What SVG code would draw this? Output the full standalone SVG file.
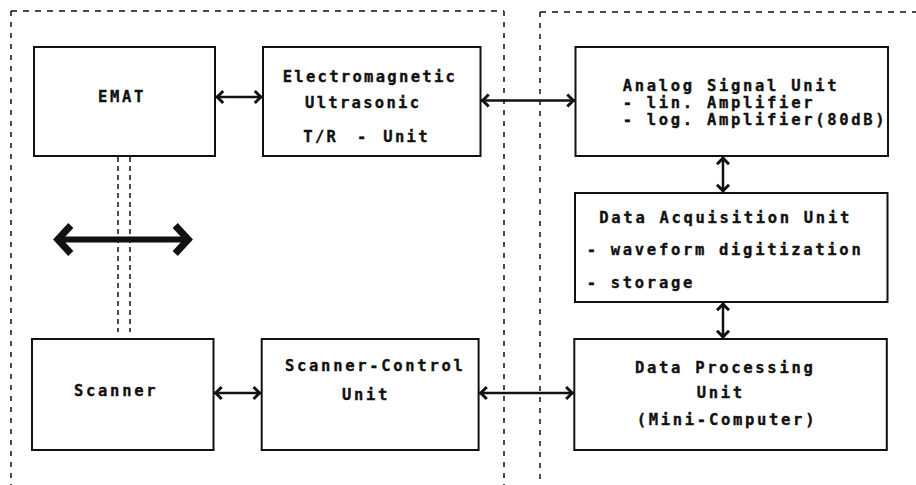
<svg xmlns="http://www.w3.org/2000/svg" width="916" height="485" viewBox="0 0 916 485">
<style>
  .box { fill: #fff; stroke: #111; stroke-width: 2; }
  .t { font-family: "DejaVu Sans Mono", "Liberation Mono", monospace; font-weight: bold; font-size: 15.5px; letter-spacing: 2.7px; fill: #111; stroke: #111; stroke-width: 0.35; }
  .region { fill: none; stroke: #111; stroke-width: 1.5; }
  .rh { stroke-dasharray: 6 6; }
  .rv { stroke-dasharray: 5 6; }
  .link { stroke: #111; stroke-width: 2.5; fill: none; marker-start: url(#ah); marker-end: url(#ah); }
  .big { stroke: #111; stroke-width: 6; fill: none; marker-start: url(#bh); marker-end: url(#bh); }
  .mech { stroke: #111; stroke-width: 1.5; stroke-dasharray: 5 4; fill: none; }
</style>
<defs>
  <marker id="ah" viewBox="0 0 13 16" refX="11.2" refY="8" markerWidth="13" markerHeight="16" markerUnits="userSpaceOnUse" orient="auto-start-reverse">
    <path d="M3,2 L9,8 L3,14" fill="none" stroke="#111" stroke-width="3"/>
  </marker>
  <marker id="bh" viewBox="0 0 26 34" refX="20.8" refY="17" markerWidth="26" markerHeight="34" markerUnits="userSpaceOnUse" orient="auto-start-reverse">
    <path d="M6,3 L19,17 L6,31" fill="none" stroke="#111" stroke-width="7"/>
  </marker>
</defs>
<rect width="916" height="485" fill="#fff"/>

<g id="regions">
  <path class="region rh" d="M11,11 H504"/>
  <path class="region rv" d="M11,11 V485"/>
  <path class="region rv" d="M504,11 V485"/>
  <path class="region rh" d="M540,12 H916"/>
  <path class="region rv" d="M540,12 V485"/>
</g>

<g id="connectors">
  <path class="mech" d="M118,157 V332"/>
  <path class="mech" d="M130,157 V332"/>
  <path class="big" d="M56,239.5 H190"/>
  <path class="link" d="M215,97 H263"/>
  <path class="link" d="M480.5,100.5 H575.5"/>
  <path class="link" d="M723,156 V193"/>
  <path class="link" d="M723,302 V339"/>
  <path class="link" d="M213.5,393 H261.7"/>
  <path class="link" d="M478.6,393 H574.3"/>
</g>

<g id="emat">
  <rect class="box" x="34" y="47" width="181" height="109"/>
  <text class="t" x="98" y="102">EMAT</text>
</g>
<g id="em-unit">
  <rect class="box" x="263" y="47" width="217.5" height="109"/>
  <text class="t" x="282.7" y="82.3" style="letter-spacing:2.3px">Electromagnetic</text>
  <text class="t" x="305" y="108.3" style="letter-spacing:2.3px">Ultrasonic</text>
  <text class="t" y="141.7" style="letter-spacing:2.3px"><tspan x="303.3">T/R</tspan><tspan x="357">-</tspan><tspan x="383.3">Unit</tspan></text>
</g>
<g id="analog">
  <rect class="box" x="575.5" y="47" width="312.5" height="109"/>
  <text class="t" x="622.7" y="90.5">Analog Signal Unit</text>
  <text class="t" x="622.7" y="107.7">- lin. Amplifier</text>
  <text class="t" x="622.7" y="125">- log. Amplifier(80dB)</text>
</g>
<g id="daq">
  <rect class="box" x="575" y="193" width="312.5" height="109"/>
  <text class="t" x="599.3" y="222.7">Data Acquisition Unit</text>
  <text class="t" x="586.7" y="255">- waveform digitization</text>
  <text class="t" x="586.7" y="288.3">- storage</text>
</g>
<g id="scanner">
  <rect class="box" x="32" y="339" width="181.5" height="111"/>
  <text class="t" x="74" y="396">Scanner</text>
</g>
<g id="scanner-control">
  <rect class="box" x="261.7" y="339" width="216.9" height="111"/>
  <text class="t" x="285" y="370.7">Scanner-Control</text>
  <text class="t" x="342" y="400">Unit</text>
</g>
<g id="data-processing">
  <rect class="box" x="574.3" y="339" width="312.5" height="111"/>
  <text class="t" x="635" y="373.3">Data Processing</text>
  <text class="t" x="696.7" y="398.3">Unit</text>
  <text class="t" x="636.7" y="425">(Mini-Computer)</text>
</g>
</svg>
